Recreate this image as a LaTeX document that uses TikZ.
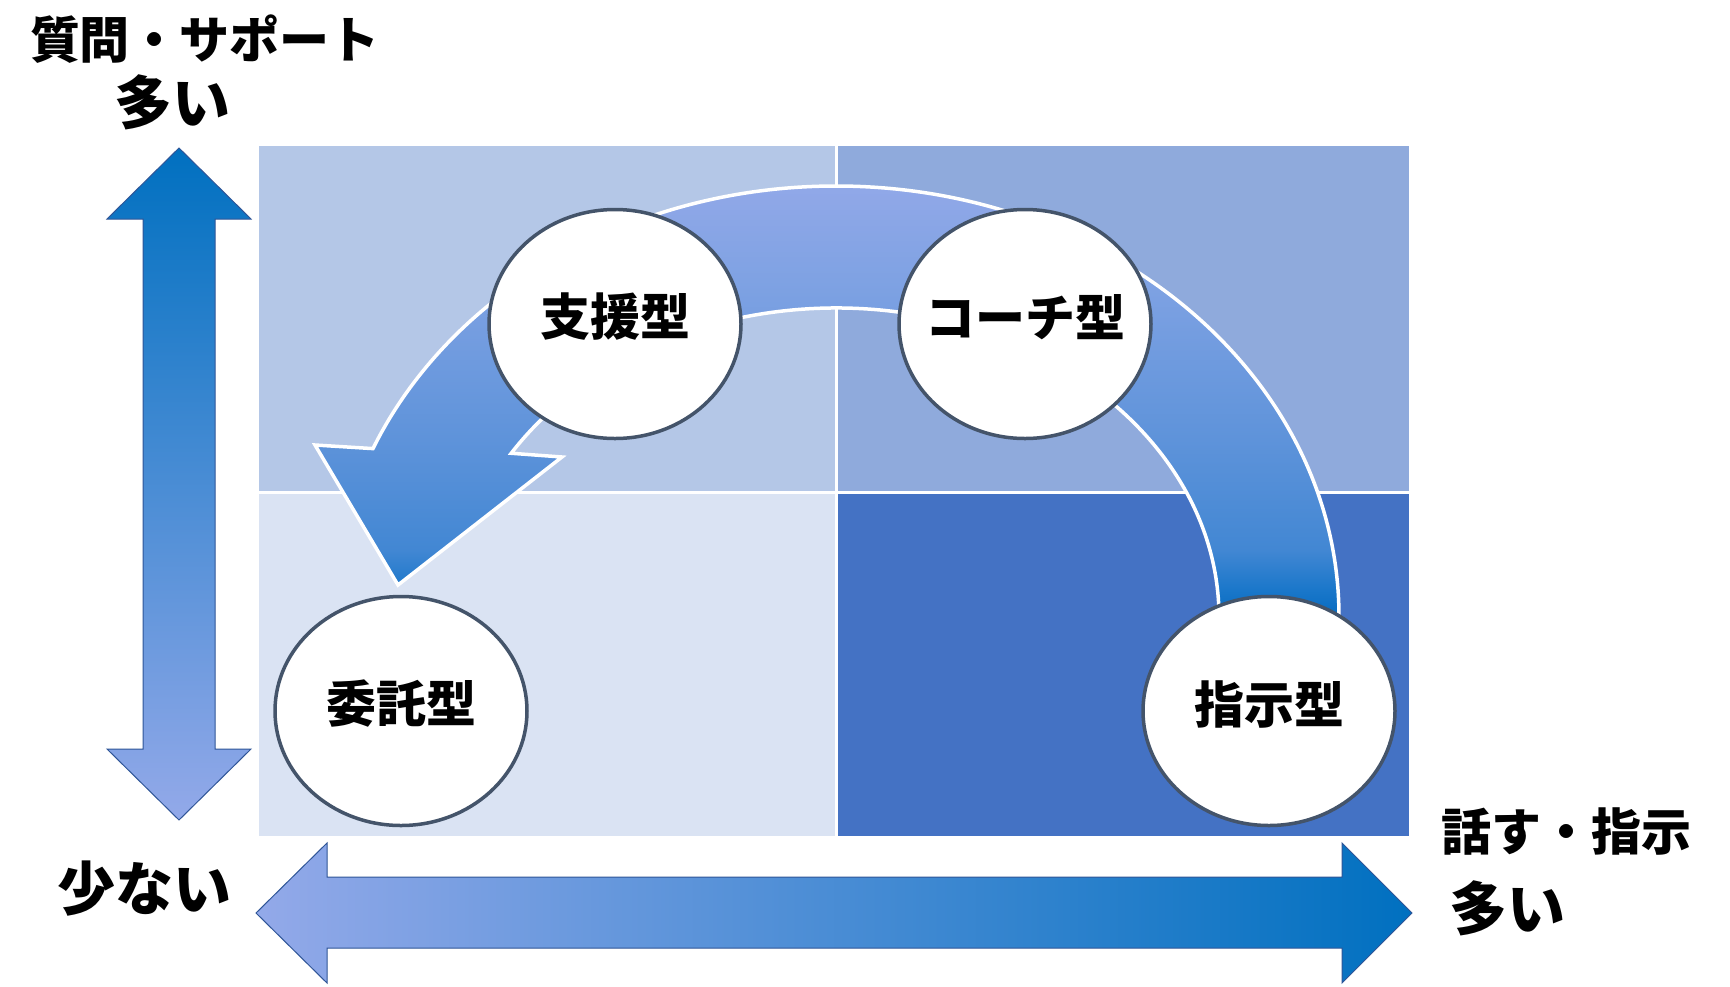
\documentclass[tikz,border=0pt]{standalone}
\usepackage{fontspec}
\newfontfamily\jp{Noto Sans CJK JP}
\usetikzlibrary{shapes.geometric,calc}
\definecolor{qTL}{HTML}{B4C7E7}
\definecolor{qTR}{HTML}{8FAADC}
\definecolor{qBL}{HTML}{DAE3F3}
\definecolor{qBR}{HTML}{4472C4}
\definecolor{ring}{HTML}{44546A}
\definecolor{adark}{HTML}{0070C0}
\definecolor{alight}{HTML}{93A9E9}
\definecolor{aline}{HTML}{2F5597}
\definecolor{sA}{HTML}{066BC0}
\definecolor{sB}{HTML}{1A77CA}
\definecolor{sC}{HTML}{4287D3}
\definecolor{sD}{HTML}{5E93DA}
\definecolor{sE}{HTML}{7FA2E3}
\definecolor{sF}{HTML}{91A8E8}
\pgfdeclareverticalshading{arcshade}{100bp}{color(0bp)=(sA); color(25bp)=(sA);
  color(28.15bp)=(sB); color(32.75bp)=(sC); color(45.55bp)=(sD);
  color(64.1bp)=(sE); color(75bp)=(sF); color(100bp)=(sF)}
\begin{document}
\begin{tikzpicture}[x=1pt,y=1pt,
  circ/.style={ellipse, draw=ring, line width=3.5pt, fill=white,
    minimum width=252pt, minimum height=229pt, inner sep=0pt},
  lbl/.style={font=\jp\bfseries\fontsize{50}{60}\selectfont, inner sep=0pt, text=black},
  biglbl/.style={font=\jp\bfseries\fontsize{58}{68}\selectfont, inner sep=0pt, text=black},
  hugelbl/.style={font=\jp\bfseries\fontsize{58}{68}\selectfont, inner sep=0pt, text=black},
  dblarrow/.style={draw=aline, line width=1pt}]
\useasboundingbox (0,0) rectangle (1730,-986);
\fill[white] (0,0) rectangle (1730,-986);

% quadrants
\fill[qTL] (259,-146) rectangle (835,-491);
\fill[qTR] (838,-146) rectangle (1409,-491);
\fill[qBL] (259,-494) rectangle (835,-836);
\fill[qBR] (838,-494) rectangle (1409,-836);

% vertical double arrow
\shadedraw[dblarrow, top color=adark, bottom color=alight]
  (179,-148) -- (251,-219) -- (215,-219) -- (215,-749) -- (251,-749)
  -- (179,-820) -- (107,-749) -- (143,-749) -- (143,-219) -- (107,-219) -- cycle;

% horizontal double arrow
\shadedraw[dblarrow, left color=alight, right color=adark]
  (256,-913) -- (327,-843) -- (327,-877) -- (1342,-877) -- (1342,-843)
  -- (1412,-913) -- (1342,-983) -- (1342,-948) -- (327,-948) -- (327,-983) -- cycle;

% curved arrow
\coordinate (ac) at (836,-617);
\shadedraw[draw=white, line width=3.5pt, line join=miter, shading=arcshade]
  ($(ac)+(0:503 and 431)$) arc[start angle=0, end angle=157, x radius=503, y radius=431]
  -- (315,-445) -- (398,-585) -- (562,-457)
  -- ($(ac)+(148:383 and 309)$) arc[start angle=148, end angle=0, x radius=383, y radius=309]
  -- cycle;

% circles
\node[circ] (c1) at (615,-324) {};
\node[circ] (c2) at (1025,-324) {};
\node[circ] (c3) at (401,-711) {};
\node[circ] (c4) at (1269,-711) {};
\node[lbl] (t1) at ([yshift=7pt]c1.center) {支援型};
\node[lbl] (t2) at ([yshift=7pt]c2.center) {コーチ型};
\node[lbl] (t3) at ([yshift=7pt]c3.center) {委託型};
\node[lbl] (t4) at ([yshift=7pt]c4.center) {指示型};

% axis labels
\node[lbl] (ytop) at (205,-39) {質問・サポート};
\node[biglbl] (ytop2) at (172,-102) {多い};
\node[hugelbl] (xlow) at (144,-889) {少ない};
\node[lbl] (xhigh) at (1566,-831) {話す・指示};
\node[biglbl] (xhigh2) at (1507,-908) {多い};
\end{tikzpicture}
\end{document}
